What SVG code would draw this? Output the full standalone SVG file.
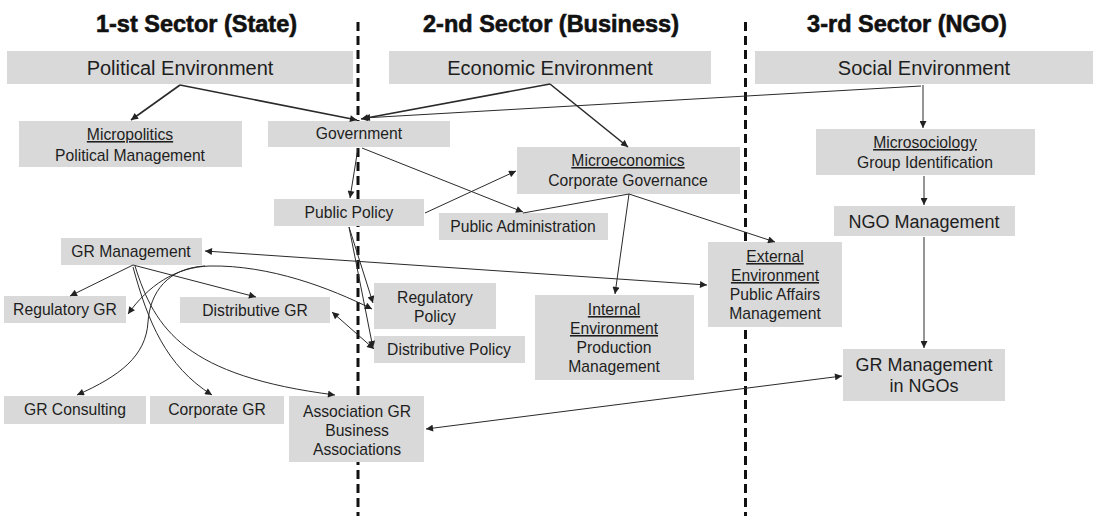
<svg xmlns="http://www.w3.org/2000/svg" width="1096" height="516" viewBox="0 0 1096 516">
<defs>
<marker id="ah" viewBox="0 0 10 10" refX="10" refY="5" markerWidth="9" markerHeight="7" markerUnits="userSpaceOnUse" orient="auto-start-reverse">
<path d="M0,0 L10,5 L0,10 z" fill="#222"/>
</marker>
<style>
.box{fill:#d9d9d9}
text{font-family:"Liberation Sans",Arial,sans-serif;fill:#1e1e1e;text-anchor:middle}
.h{font-weight:bold;font-size:23.5px;fill:#111;stroke:#111;stroke-width:0.6}
.env{font-size:20px}
.t{font-size:15.7px}
.m{font-size:18px}
.u{text-decoration:underline}
.c{fill:none;stroke:#2a2a2a;stroke-width:1}
.k{stroke-width:1.6}
.e{marker-end:url(#ah)}
.b{marker-start:url(#ah);marker-end:url(#ah)}
.dash{stroke:#111;stroke-width:3;stroke-dasharray:9 5}
</style>
</defs>
<rect width="1096" height="516" fill="#fff"/>
<g id="dividers">
<line class="dash" x1="358" y1="22" x2="358" y2="516"/>
<line class="dash" x1="745.5" y1="22" x2="745.5" y2="516"/>
</g>
<g id="headers">
<text class="h" x="196.5" y="32">1-st Sector (State)</text>
<text class="h" x="551" y="32">2-nd Sector (Business)</text>
<text class="h" x="907" y="32">3-rd Sector (NGO)</text>
</g>
<g id="political-env"><rect class="box" x="7" y="51" width="346" height="33"/><text class="env" x="180" y="75">Political Environment</text></g>
<g id="economic-env"><rect class="box" x="389" y="51" width="322" height="33"/><text class="env" x="550" y="75">Economic Environment</text></g>
<g id="social-env"><rect class="box" x="755" y="51" width="338" height="33"/><text class="env" x="924" y="75">Social Environment</text></g>
<g id="micropolitics"><rect class="box" x="19" y="121" width="223" height="46"/><text class="t u" x="130" y="140">Micropolitics</text><text class="t" x="130" y="161">Political Management</text></g>
<g id="government"><rect class="box" x="268" y="121" width="182" height="26"/><text class="t" x="359" y="139">Government</text></g>
<g id="microeconomics"><rect class="box" x="517" y="147" width="223" height="47"/><text class="t u" x="628" y="166">Microeconomics</text><text class="t" x="628" y="186">Corporate Governance</text></g>
<g id="microsociology"><rect class="box" x="816" y="129" width="219" height="46"/><text class="t u" x="925" y="148">Microsociology</text><text class="t" x="925" y="168">Group Identification</text></g>
<g id="ngo-management"><rect class="box" x="834" y="206" width="181" height="30"/><text class="m" x="924" y="228">NGO Management</text></g>
<g id="public-policy"><rect class="box" x="274" y="199" width="150" height="27"/><text class="t" x="349" y="218">Public Policy</text></g>
<g id="public-administration"><rect class="box" x="439" y="213" width="169" height="27"/><text class="t" x="523" y="232">Public Administration</text></g>
<g id="gr-management"><rect class="box" x="61" y="238" width="141" height="27"/><text class="t" x="131" y="257">GR Management</text></g>
<g id="regulatory-gr"><rect class="box" x="4" y="296" width="122" height="27"/><text class="t" x="65" y="315">Regulatory GR</text></g>
<g id="distributive-gr"><rect class="box" x="180" y="297" width="150" height="26"/><text class="t" x="255" y="316">Distributive GR</text></g>
<g id="regulatory-policy"><rect class="box" x="374" y="283" width="122" height="46"/><text class="t" x="435" y="303">Regulatory</text><text class="t" x="435" y="322">Policy</text></g>
<g id="distributive-policy"><rect class="box" x="374" y="336" width="151" height="27"/><text class="t" x="449" y="355">Distributive Policy</text></g>
<g id="internal-environment"><rect class="box" x="535" y="295" width="159" height="85"/><text class="t u" x="614" y="315">Internal</text><text class="t u" x="614" y="334">Environment</text><text class="t" x="614" y="353">Production</text><text class="t" x="614" y="372">Management</text></g>
<g id="external-environment"><rect class="box" x="708" y="242" width="134" height="85"/><text class="t u" x="775" y="262">External</text><text class="t u" x="775" y="281">Environment</text><text class="t" x="775" y="300">Public Affairs</text><text class="t" x="775" y="319">Management</text></g>
<g id="gr-management-ngos"><rect class="box" x="843" y="349" width="162" height="52"/><text class="m" x="924" y="371">GR Management</text><text class="m" x="924" y="392">in NGOs</text></g>
<g id="gr-consulting"><rect class="box" x="4" y="396" width="142" height="28"/><text class="t" x="75" y="415">GR Consulting</text></g>
<g id="corporate-gr"><rect class="box" x="150" y="396" width="134" height="28"/><text class="t" x="217" y="415">Corporate GR</text></g>
<g id="association-gr"><rect class="box" x="289" y="396" width="135" height="66"/><text class="t" x="357" y="417">Association GR</text><text class="t" x="357" y="436">Business</text><text class="t" x="357" y="455">Associations</text></g>
<g id="connectors">
<path class="c k e" d="M180,85 L131,120"/>
<path class="c k e" d="M180,85 L357,120"/>
<path class="c k e" d="M550,84 L361,119"/>
<path class="c k e" d="M550,84 L628,147"/>
<path class="c e" d="M921,86 L363,118"/>
<path class="c e" d="M923,85 L923,128"/>
<path class="c e" d="M924,176 L924,205"/>
<path class="c e" d="M924,237 L924,348"/>
<path class="c e" d="M358,148 L350,198"/>
<path class="c e" d="M362,148 L523,212"/>
<path class="c e" d="M425,213 L516,171"/>
<path class="c" d="M629,194 L523,213"/>
<path class="c e" d="M629,194 L615,294"/>
<path class="c e" d="M629,194 L775,242"/>
<path class="c e" d="M349,227 L373,303"/>
<path class="c e" d="M349,227 L373,348"/>
<path class="c b" d="M205,251 L707,285"/>
<path class="c e" d="M133,265 L70,296"/>
<path class="c e" d="M133,265 L256,297"/>
<path class="c b" d="M332,312 L374,349"/>
<path class="c b" d="M426,429 L842,376"/>
<path class="c b" d="M128,314 C148,286 175,267 210,266 C270,265 330,288 372,309"/>
<path class="c e" d="M205,266 C168,268 150,292 148,322 C146,356 120,376 77,395"/>
<path class="c e" d="M133,267 C148,322 166,366 212,395"/>
<path class="c e" d="M135,266 C155,330 186,376 335,395"/>
</g>
</svg>
